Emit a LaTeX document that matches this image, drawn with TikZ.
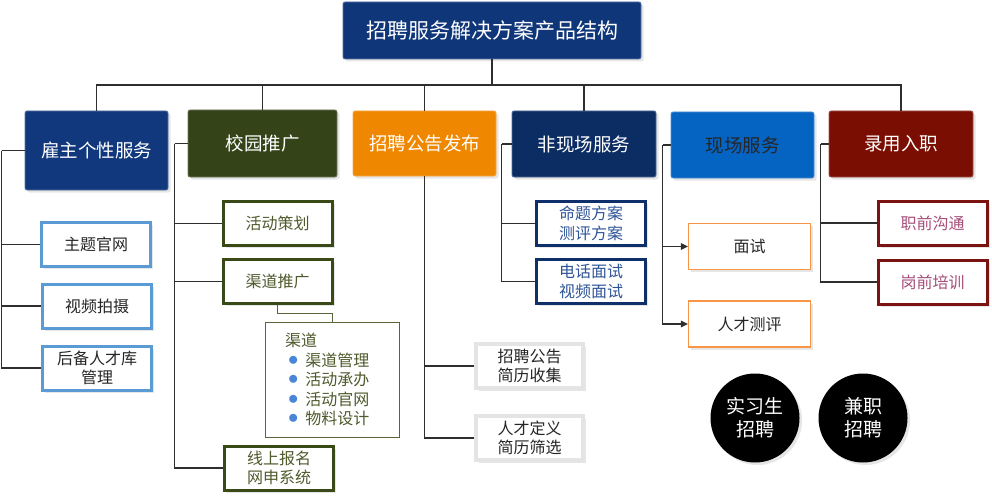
\documentclass[tikz,border=0pt]{standalone}
\usepackage{fontspec}
\setmainfont{Noto Sans CJK SC}
\usetikzlibrary{positioning, calc, arrows.meta, shadows}

\definecolor{topblue}{HTML}{10367A}
\definecolor{empblue}{HTML}{11377C}
\definecolor{olive}{HTML}{344318}
\definecolor{orangefill}{HTML}{F08700}
\definecolor{navy}{HTML}{0C2D64}
\definecolor{skyblue}{HTML}{0563C1}
\definecolor{darkred}{HTML}{7A0E02}
\definecolor{linegray}{HTML}{2E2E2E}
\definecolor{empline}{HTML}{5B9BD5}
\definecolor{oliveline}{HTML}{3A4A17}
\definecolor{olivetext}{HTML}{4F5A2C}
\definecolor{lightframe}{HTML}{E4E4E4}
\definecolor{navyline}{HTML}{0F2F6B}
\definecolor{bluetext}{HTML}{2F5597}
\definecolor{orangeline}{HTML}{F79646}
\definecolor{redline}{HTML}{7B1410}
\definecolor{rosetext}{HTML}{A64D79}
\definecolor{textgray}{HTML}{262626}
\definecolor{dotblue}{HTML}{4A86D8}

\newcommand{\qdot}{\textcolor{dotblue}{\smash{\raisebox{1pt}{\scalebox{1.2}{$\bullet$}}}}}

\begin{document}
\begin{tikzpicture}[x=1pt, y=-1pt, >=Triangle,
    softshadow/.style={drop shadow={opacity=0.2, shadow xshift=2.5pt, shadow yshift=-2.5pt}},
    headbox/.style={fill=#1, draw=#1!70!white, line width=0.8pt, rounded corners=2pt,
        text=white, minimum width=143pt, minimum height=66pt,
        font=\fontsize{18.5}{22}\selectfont, softshadow},
    subbox/.style 2 args={draw=#1, text=#2, fill=white, line width=3pt,
        minimum width=109pt, minimum height=44pt, inner ysep=1pt, align=center,
        font=\fontsize{16}{19.5}\selectfont, softshadow},
    link/.style={draw=linegray, line width=1.4pt},
    thinlink/.style={draw=oliveline!85, line width=1pt},
    bubble/.style={circle, fill=black, text=white, minimum size=89pt, align=center,
        font=\fontsize{19}{23}\selectfont, softshadow}]

    \useasboundingbox (0,0) rectangle (992,500);

    % Root
    \node[headbox=topblue, minimum width=298pt, minimum height=57pt,
        font=\fontsize{21}{24}\selectfont] (root) at (492,30.5) {招聘服务解决方案产品结构};

    % Main branches
    \node[headbox=empblue, minimum height=79pt] (emp) at (96.5,150.5) {雇主个性服务};
    \node[headbox=olive, minimum width=149pt, minimum height=67pt] (campus) at (262.5,143.5) {校园推广};
    \node[headbox=orangefill, minimum height=65pt] (notice) at (424.5,143.5) {招聘公告发布};
    \node[headbox=navy, minimum width=144pt] (offsite) at (584,144) {非现场服务};
    \node[headbox=skyblue, text=black!85] (onsite) at (742.5,145) {现场服务};
    \node[headbox=darkred, minimum width=144pt] (hire) at (901,144) {录用入职};

    % Bus from root
    \coordinate (bus) at (492,85);
    \draw[link] (root.south) -- (bus);
    \foreach \n in {emp, campus, notice, offsite, hire}
        \draw[link] (bus) -| (\n.north);

    % Employer services
    \node[subbox={empline}{textgray}] (emp1) at (96,244.5) {主题官网};
    \node[subbox={empline}{textgray}] (emp2) at (97,306) {视频拍摄};
    \node[subbox={empline}{textgray}] (emp3) at (97,368) {后备人才库\\管理};
    \coordinate (empT) at ($(emp.west)+(-23,0)$);
    \draw[link] (emp.west) -- (empT);
    \foreach \c in {emp1, emp2, emp3}
        \draw[link] (empT) |- (\c.west);

    % Campus promotion
    \node[subbox={oliveline}{olivetext}] (cp1) at (277.5,223.5) {活动策划};
    \node[subbox={oliveline}{olivetext}] (cp2) at (277.5,281.5) {渠道推广};
    \node[subbox={oliveline}{olivetext}] (cp3) at (279,468) {线上报名\\网申系统};
    \coordinate (campusT) at ($(campus.west)+(-13,0)$);
    \draw[link] (campus.west) -- (campusT);
    \foreach \c in {cp1, cp2, cp3}
        \draw[link] (campusT) |- (\c.west);

    % Channel list
    \node[draw=oliveline!85, line width=0.9pt, fill=white, text=olivetext,
        minimum width=134pt, minimum height=115pt, inner xsep=20pt, text width=94pt,
        align=left, font=\fontsize{16}{19.5}\selectfont] (cplist) at (332,379.5)
        {渠道\\
         \hspace*{3pt}\qdot\hspace{7pt}渠道管理\\
         \hspace*{3pt}\qdot\hspace{7pt}活动承办\\
         \hspace*{3pt}\qdot\hspace{7pt}活动官网\\
         \hspace*{3pt}\qdot\hspace{7pt}物料设计};
    \draw[thinlink] (cp2.south) -- ++(0,8) -| (cplist.north);

    % Notice release
    \node[subbox={lightframe}{textgray}, line width=4pt, minimum width=107pt] (nt1) at (529.5,366) {招聘公告\\简历收集};
    \node[subbox={lightframe}{textgray}, line width=4pt, minimum width=107pt] (nt2) at (529.5,438) {人才定义\\简历筛选};
    \draw[link] (notice.south) |- (nt2.west);
    \draw[link] (notice.south) |- (nt1.west);

    % Off-site services
    \node[subbox={navyline}{bluetext}] (off1) at (591,223.5) {命题方案\\测评方案};
    \node[subbox={navyline}{bluetext}] (off2) at (591,281.5) {电话面试\\视频面试};
    \coordinate (offsiteT) at ($(offsite.west)+(-10,0)$);
    \draw[link] (offsite.west) -- (offsiteT);
    \foreach \c in {off1, off2}
        \draw[link] (offsiteT) |- (\c.west);

    % On-site services
    \node[subbox={orangeline}{textgray}, line width=1.3pt, minimum width=122pt, minimum height=46pt] (on1) at (749.5,246.5) {面试};
    \node[subbox={orangeline}{textgray}, line width=1.3pt, minimum width=122pt, minimum height=46pt] (on2) at (749.5,324) {人才测评};
    \coordinate (onsiteT) at ($(onsite.west)+(-8,0)$);
    \draw[link] (onsite.west) -- (onsiteT);
    \foreach \c in {on1, on2}
        \draw[link, -{Triangle[length=7pt, width=6.5pt]}] (onsiteT) |- (\c.west);

    % Onboarding
    \node[subbox={redline}{rosetext}] (hr1) at (932.5,223) {职前沟通};
    \node[subbox={redline}{rosetext}] (hr2) at (932.5,282) {岗前培训};
    \coordinate (hireT) at ($(hire.west)+(-8,0)$);
    \draw[link] (hire.west) -- (hireT);
    \foreach \c in {hr1, hr2}
        \draw[link] (hireT) |- (\c.west);

    % Recruitment types
    \node[bubble] (intern) at (755,418) {实习生\\招聘};
    \node[bubble] (parttime) at (863,418) {兼职\\招聘};
\end{tikzpicture}
\end{document}
